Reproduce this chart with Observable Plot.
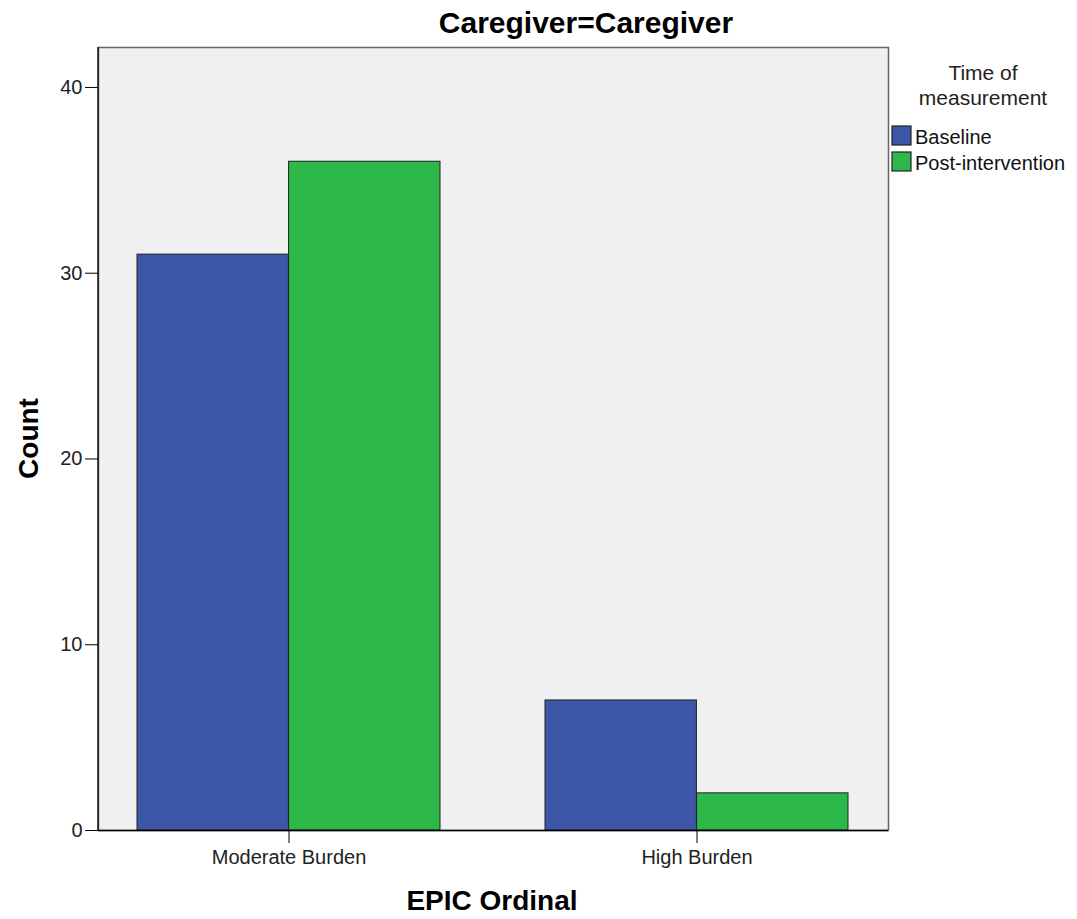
<!DOCTYPE html>
<html>
<head>
<meta charset="utf-8">
<script src="https://cdn.jsdelivr.net/npm/d3@7"></script>
<script src="https://cdn.jsdelivr.net/npm/@observablehq/plot@0.6"></script>
<style>
  html, body { margin: 0; padding: 0; background: #fff; }
  #chart svg { display: block; }
</style>
</head>
<body>
<div id="chart"></div>
<script>
const categories = ["Moderate Burden", "High Burden"];
const series = ["Baseline", "Post-intervention"];
const baselineValues = [31, 7];
const postValues = [36, 2];
const yTicks = [0, 10, 20, 30, 40];
const colors = ["#3d56a8", "#2db84a"];

const W = 1077, H = 919;
const mL = 98, mR = 189, mT = 47, mB = 89;
const padInner = 0.257, padOuter = 0.0966;

const data = [];
categories.forEach((c, i) => {
  data.push({category: c, series: series[0], value: baselineValues[i]});
  data.push({category: c, series: series[1], value: postValues[i]});
});

// half of the band width, so the two series sit side by side in each band
const plotW = W - mL - mR;
const step = plotW / (categories.length - padInner + 2 * padOuter);
const half = step * (1 - padInner) / 2;

const font = "'Liberation Sans', Arial, Helvetica, sans-serif";

const chart = Plot.plot({
  width: W,
  height: H,
  marginLeft: mL,
  marginRight: mR,
  marginTop: mT,
  marginBottom: mB,
  style: {fontFamily: font, fontSize: "20px", color: "#222", background: "#fff"},
  x: {domain: categories, paddingInner: padInner, paddingOuter: padOuter, label: null},
  y: {domain: [0, 42.15], label: null},
  color: {domain: series, range: colors},
  marks: [
    Plot.frame({fill: "#f0f0f0", stroke: "#666", strokeWidth: 1.5}),
    Plot.barY(data.filter(d => d.series === series[0]), {
      x: "category", y: "value", fill: "series", stroke: "#222", strokeWidth: 1,
      insetLeft: 0, insetRight: half
    }),
    Plot.barY(data.filter(d => d.series === series[1]), {
      x: "category", y: "value", fill: "series", stroke: "#222", strokeWidth: 1,
      insetLeft: half, insetRight: 0
    }),
    Plot.axisY({ticks: yTicks, tickSize: 13, tickPadding: 3, label: null, stroke: "#000", fontSize: 20, fill: "#222"}),
    Plot.axisX({tickSize: 13, tickPadding: 6, label: null, stroke: "#000", fontSize: 20, fill: "#222"}),
    Plot.ruleY([0], {stroke: "#000", strokeWidth: 1.3})
  ]
});

document.getElementById("chart").appendChild(chart);

const svg = d3.select(chart);
// left axis line
svg.append("line")
  .attr("x1", mL).attr("x2", mL).attr("y1", mT).attr("y2", H - mB)
  .attr("stroke", "#000").attr("stroke-width", 1.3);

// title
svg.append("text")
  .attr("x", 586).attr("y", 33)
  .attr("text-anchor", "middle")
  .style("font", `bold 30px ${font}`)
  .attr("fill", "#000")
  .text("Caregiver=Caregiver");

// axis titles
svg.append("text")
  .attr("x", 492).attr("y", 910)
  .attr("text-anchor", "middle")
  .style("font", `bold 28px ${font}`)
  .attr("fill", "#000")
  .text("EPIC Ordinal");

svg.append("text")
  .attr("transform", `translate(38, ${(mT + H - mB) / 2}) rotate(-90)`)
  .attr("text-anchor", "middle")
  .style("font", `bold 28px ${font}`)
  .attr("fill", "#000")
  .text("Count");

// legend
const lg = svg.append("g");
lg.append("text")
  .attr("x", 983).attr("y", 80)
  .attr("text-anchor", "middle")
  .style("font", `21px ${font}`)
  .attr("fill", "#222")
  .text("Time of");
lg.append("text")
  .attr("x", 983).attr("y", 105)
  .attr("text-anchor", "middle")
  .style("font", `21px ${font}`)
  .attr("fill", "#222")
  .text("measurement");
series.forEach((s, i) => {
  lg.append("rect")
    .attr("x", 892).attr("y", 126 + i * 26)
    .attr("width", 19).attr("height", 19)
    .attr("fill", colors[i]).attr("stroke", "#222").attr("stroke-width", 1.2);
  lg.append("text")
    .attr("x", 915).attr("y", 144 + i * 26)
    .attr("text-anchor", "start")
    .style("font", `20px ${font}`)
    .attr("fill", "#111")
    .text(s);
});
</script>
</body>
</html>
